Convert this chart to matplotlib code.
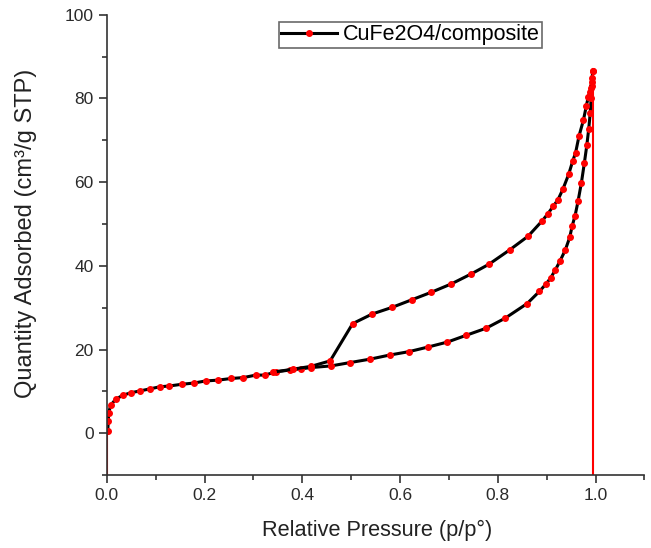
import matplotlib.pyplot as plt
from matplotlib.lines import Line2D

plt.rcParams['font.family'] = ['Liberation Sans', 'DejaVu Sans']

# adsorption branch (lower)
x_ads = [0.002, 0.003, 0.004, 0.008, 0.018, 0.033, 0.050, 0.067, 0.088, 0.108, 0.128,
         0.153, 0.178, 0.202, 0.228, 0.255, 0.279, 0.305, 0.323, 0.347, 0.374, 0.397,
         0.418, 0.459, 0.498, 0.538, 0.579, 0.618, 0.657, 0.697, 0.735, 0.776, 0.815,
         0.860, 0.885, 0.898, 0.908, 0.917, 0.927, 0.938, 0.947, 0.952, 0.958, 0.964,
         0.971, 0.977, 0.982, 0.986, 0.989, 0.991, 0.993, 0.994]
y_ads = [0.5, 2.9, 4.9, 6.7, 8.1, 9.1, 9.7, 10.1, 10.6, 11.1, 11.3,
         11.7, 12.0, 12.5, 12.7, 13.1, 13.3, 13.9, 13.9, 14.7, 15.1, 15.4,
         15.7, 16.1, 16.9, 17.7, 18.7, 19.5, 20.6, 21.8, 23.4, 25.1, 27.5,
         31.0, 33.9, 35.6, 37.1, 38.9, 41.1, 43.8, 46.8, 49.5, 52.0, 55.4,
         59.9, 64.6, 68.8, 72.8, 76.6, 80.2, 83.0, 86.6]

# desorption branch (upper)
x_des = [0.994, 0.993, 0.992, 0.990, 0.988, 0.985, 0.981, 0.975, 0.966, 0.959, 0.953,
         0.945, 0.933, 0.923, 0.913, 0.902, 0.891, 0.862, 0.824, 0.782, 0.746, 0.705,
         0.664, 0.624, 0.584, 0.543, 0.503, 0.457, 0.418, 0.380, 0.340]
y_des = [86.6, 85.0, 84.0, 82.5, 81.5, 80.4, 78.2, 74.8, 71.0, 67.0, 65.0,
         61.9, 58.3, 55.8, 54.2, 52.4, 50.8, 47.1, 43.8, 40.4, 38.1, 35.7,
         33.7, 31.9, 30.1, 28.5, 26.2, 17.3, 16.0, 15.3, 14.6]

# red drop lines at the ends
x_drop_left = [0.0, 0.0]
y_drop_left = [-10, 0.5]
x_drop_right = [0.995, 0.995]
y_drop_right = [-10, 87]

fig = plt.figure(figsize=(6.51, 5.48), dpi=100)
ax = fig.add_axes([0.164, 0.133, 0.826, 0.84])

style = dict(color='black', lw=2.2, marker='o', ms=4, mfc='red', mec='red')
ax.plot(x_ads, y_ads, **style)
ax.plot(x_des, y_des, **style)
ax.plot(x_drop_left, y_drop_left, color='red', lw=1.5)
ax.plot(x_drop_right, y_drop_right, color='red', lw=1.5)

ax.set_xlim(0, 1.1)
ax.set_ylim(-10, 100)
ax.set_xticks([0.0, 0.2, 0.4, 0.6, 0.8, 1.0])
ax.set_xticks([0.1, 0.3, 0.5, 0.7, 0.9, 1.1], minor=True)
ax.set_yticks([0, 20, 40, 60, 80, 100])
ax.set_yticks([-10, 10, 30, 50, 70, 90], minor=True)

for s in ['top', 'right']:
    ax.spines[s].set_visible(False)
for s in ['left', 'bottom']:
    ax.spines[s].set_color('#333333')
    ax.spines[s].set_linewidth(1.2)

ax.tick_params(which='major', direction='out', length=6, width=1.2, colors='#333333',
               labelsize=12.5, labelcolor='#2a2a2a')
ax.tick_params(which='minor', direction='out', length=3.5, width=1.2, colors='#333333')

ax.set_xlabel('Relative Pressure (p/p°)', fontsize=15.7, color='#222222')
ax.set_ylabel('Quantity Adsorbed (cm³/g STP)', fontsize=17, color='#222222')
ax.xaxis.set_label_coords(0.502, -0.098)
ax.yaxis.set_label_coords(-0.13, 0.526)

handle = Line2D([], [], color='black', lw=2.2, marker='o', ms=4, mfc='red', mec='red')
leg = ax.legend([handle], ['CuFe2O4/composite'], loc='upper center',
                bbox_to_anchor=(0.565, 1.008), fontsize=15.5, frameon=True, fancybox=False,
                handlelength=2.6, handletextpad=0.25, borderpad=0.12, markerscale=1,
                numpoints=1)
leg.get_frame().set_edgecolor('#444444')
leg.get_frame().set_linewidth(1.2)

fig.savefig('out.png', dpi=100)
